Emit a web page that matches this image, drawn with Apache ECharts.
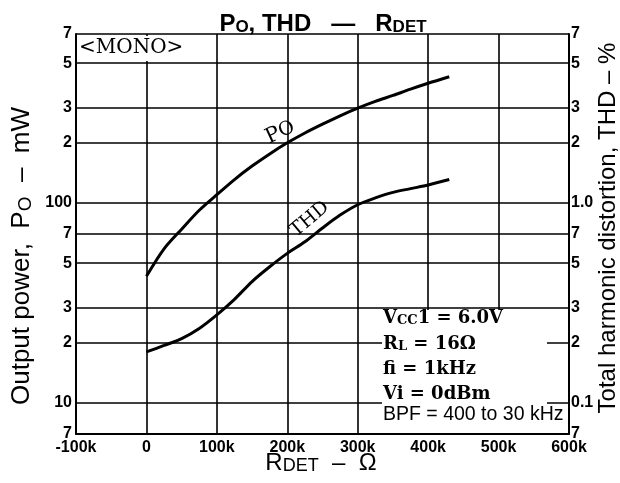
<!DOCTYPE html>
<html>
<head>
<meta charset="utf-8">
<script src="https://cdn.jsdelivr.net/npm/echarts@6/dist/echarts.min.js"></script>
<style>
  html, body { margin: 0; padding: 0; background: #fff; }
  #chart { width: 620px; height: 483px; }
</style>
</head>
<body>
<div id="chart"></div>
<script>
// Output power vs. detector resistance (mW)
const poR   = [0, 25000, 50000, 75000, 100000, 125000, 150000, 175000, 200000, 225000, 250000, 275000, 300000, 325000, 350000, 375000, 400000, 430000];
const poVal = [43, 59, 74, 92, 110, 131, 153, 176, 200, 224, 248, 273, 298, 322, 345, 371, 397, 428];

// Total harmonic distortion vs. detector resistance (%)
const thdR   = [0, 25000, 50000, 75000, 100000, 125000, 150000, 175000, 200000, 225000, 250000, 275000, 300000, 325000, 350000, 375000, 400000, 430000];
const thdVal = [0.18, 0.194, 0.21, 0.236, 0.276, 0.33, 0.405, 0.48, 0.56, 0.64, 0.75, 0.87, 0.98, 1.06, 1.13, 1.18, 1.23, 1.31];

// Axis ticks
const powerTicks = [7, 10, 20, 30, 50, 70, 100, 200, 300, 500, 700];
const thdTicks   = [0.07, 0.1, 0.2, 0.3, 0.5, 0.7, 1, 2, 3, 5, 7];
const xMin = -100000, xMax = 600000, xStep = 100000;

// Title, axis captions and condition notes
const titleText = '{n|P}{s|O}{n|, THD   —   R}{s|DET}';
const powerName = '{n|Output power,  P}{s|O}{n|  –  mW}';
const thdName = 'Total harmonic distortion, THD – %';
const rdetName = '{n|R}{s|DET}{n|  –  Ω}';
const notes = ['{n|V}{s|CC}{n|1 = 6.0V}', '{n|R}{s|L}{n| = 16Ω}', '{n|fi = 1kHz}', '{n|Vi = 0dBm}'];
const bpfNote = 'BPF = 400 to 30 kHz';

function mantissa(v) {
  const e = Math.floor(Math.log10(v) + 1e-9);
  return { m: Math.round(v / Math.pow(10, e)), e: e };
}
function powerLabel(v) {
  const t = mantissa(v);
  return t.m === 1 ? String(Math.round(v)) : String(t.m);
}
function thdLabel(v) {
  const t = mantissa(v);
  if (t.m === 1) return t.e === 0 ? '1.0' : String(Math.round(v * 10) / 10);
  return String(t.m);
}

const sans = 'Liberation Sans';
const serif = 'DejaVu Serif';
const tickFont = { fontFamily: sans, fontWeight: 'bold', fontSize: 16, color: '#000' };

// rich-text styles with a lowered, smaller subscript
function subStyles(family, weight, size, sub, drop) {
  return {
    n: { fontFamily: family, fontWeight: weight, fontSize: size, lineHeight: size, verticalAlign: 'top', fill: '#000' },
    s: { fontFamily: family, fontWeight: weight, fontSize: sub, lineHeight: sub, verticalAlign: 'bottom', padding: [drop, 0, 0, 0], fill: '#000' }
  };
}

const chart = echarts.init(document.getElementById('chart'), null, { renderer: 'canvas' });
const lineStyle = { color: '#000', width: 3 };

chart.setOption({
  backgroundColor: '#fff',
  animation: false,
  grid: { left: 76, right: 51, top: 34, bottom: 49, containLabel: false, outerBoundsMode: 'none' },
  xAxis: {
    type: 'value',
    min: xMin, max: xMax, interval: xStep,
    axisLine: { show: true, onZero: false, lineStyle: { color: '#000', width: 2 } },
    axisTick: { show: false },
    axisLabel: {
      ...tickFont, margin: 6,
      formatter: v => v === 0 ? '0' : (v / 1000) + 'k'
    },
    splitLine: { show: true, lineStyle: { color: '#000', width: 1.6 } }
  },
  yAxis: [
    {
      type: 'log', logBase: 10, min: 7, max: 700,
      position: 'left',
      axisLine: { show: true, onZero: false, lineStyle: { color: '#000', width: 2 } },
      axisTick: { show: false, customValues: powerTicks },
      axisLabel: { ...tickFont, margin: 4, customValues: powerTicks, formatter: powerLabel },
      splitLine: { show: true, lineStyle: { color: '#000', width: 1.6 } }
    },
    {
      type: 'log', logBase: 10, min: 0.07, max: 7,
      position: 'right',
      name: thdName,
      nameLocation: 'middle',
      nameRotate: 90,
      nameMoveOverlap: false,
      nameGap: 27,
      nameTextStyle: { fontFamily: sans, fontSize: 24, color: '#000', padding: [0, 0, 0, 12] },
      axisLine: { show: true, onZero: false, lineStyle: { color: '#000', width: 2 } },
      axisTick: { show: false, customValues: thdTicks },
      axisLabel: { ...tickFont, margin: 2, customValues: thdTicks, formatter: thdLabel },
      splitLine: { show: false }
    }
  ],
  series: [
    {
      name: 'Po', type: 'line', yAxisIndex: 0, smooth: 0.3, symbol: 'none',
      lineStyle: lineStyle, z: 5,
      data: poR.map((r, i) => [r, poVal[i]])
    },
    {
      name: 'THD', type: 'line', yAxisIndex: 1, smooth: 0.3, symbol: 'none',
      lineStyle: lineStyle, z: 5,
      data: thdR.map((r, i) => [r, thdVal[i]])
    }
  ]
});

// Curve captions, titles and note blocks
const poAt  = chart.convertToPixel({ xAxisIndex: 0, yAxisIndex: 0 }, [190000, 225]);
const thdAt = chart.convertToPixel({ xAxisIndex: 0, yAxisIndex: 1 }, [232000, 0.83]);

const graphics = [
  { type: 'text', z: 60, x: 323, y: 24, style: { text: titleText, rich: subStyles(sans, 'bold', 24, 17, 12), align: 'center', verticalAlign: 'middle' } },
  { type: 'text', z: 60, x: 22, y: 256, rotation: Math.PI / 2,
    style: { text: powerName, rich: subStyles(sans, 'normal', 26, 19, 13), align: 'center', verticalAlign: 'middle' } },
  { type: 'text', z: 60, x: 321, y: 463,
    style: { text: rdetName, rich: subStyles(sans, 'normal', 24, 18, 12), align: 'center', verticalAlign: 'middle' } },
  // white panel behind the MONO tag
  { type: 'rect', z: 50, shape: { x: 78, y: 36, width: 116, height: 25 }, style: { fill: '#fff' } },
  { type: 'text', z: 51, x: 79, y: 48, style: { text: '<MONO>', fontFamily: serif, fontSize: 20, fill: '#000', verticalAlign: 'middle' } },
  // white panel behind the conditions
  { type: 'rect', z: 50, shape: { x: 382, y: 310, width: 165, height: 123 }, style: { fill: '#fff' } },
  { type: 'rect', z: 50, shape: { x: 547, y: 406, width: 16, height: 27 }, style: { fill: '#fff' } },
  {
    type: 'text', z: 60, x: poAt[0], y: poAt[1], rotation: 25 * Math.PI / 180,
    style: { text: '{p|P}{o|O}', align: 'center', verticalAlign: 'middle',
      rich: { p: { fontFamily: serif, fontSize: 21, fill: '#000' }, o: { fontFamily: serif, fontSize: 19, fill: '#000' } } }
  },
  {
    type: 'text', z: 60, x: thdAt[0], y: thdAt[1], rotation: 40 * Math.PI / 180,
    style: { text: 'THD', align: 'center', verticalAlign: 'middle', fontFamily: serif, fontSize: 19, fill: '#000' }
  }
];
const noteRich = subStyles(serif, 'bold', 18, 13, 9);
const noteY = [318, 344, 369, 394];
notes.forEach((t, i) => {
  graphics.push({ type: 'text', z: 60, x: 383, y: noteY[i], style: { text: t, rich: noteRich, verticalAlign: 'middle' } });
});
graphics.push({ type: 'text', z: 60, x: 383, y: 415, style: { text: bpfNote, fontFamily: sans, fontSize: 19.5, fill: '#000', verticalAlign: 'middle' } });

chart.setOption({ graphic: graphics });
</script>
</body>
</html>
